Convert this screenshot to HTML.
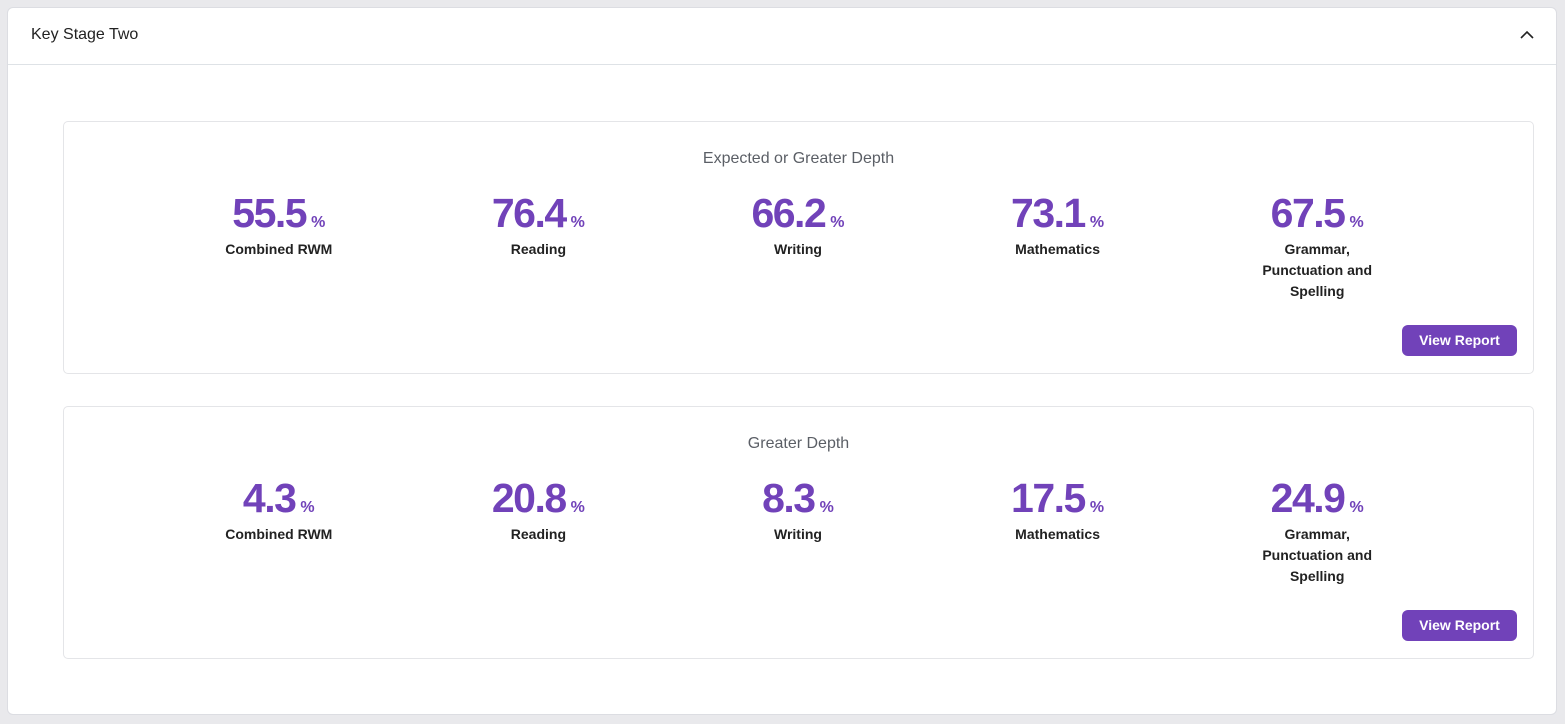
<!DOCTYPE html>
<html><head><style>
html,body{margin:0;padding:0;}
body{width:1565px;height:724px;background:#e9e9ec;font-family:"Liberation Sans",sans-serif;position:relative;overflow:hidden;}
.outer{position:absolute;left:7px;top:7px;width:1550px;height:708px;background:#fff;border:1px solid #dcdde2;border-radius:6px;box-sizing:border-box;}
.hdr{height:56px;border-bottom:1px solid #dee2e6;position:relative;}
.hdr span{position:absolute;left:23px;top:18px;font-size:16px;color:#222;}
.chev{position:absolute;right:22px;top:22px;}
.card{position:absolute;left:55px;width:1471px;height:253px;border:1px solid #e4e5e8;border-radius:5px;box-sizing:border-box;background:#fff;}
.title{position:absolute;top:28px;left:0;right:0;text-align:center;font-size:16px;color:#5b5f66;}
.cols{position:absolute;left:85px;top:73px;width:1298px;display:flex;}
.col{width:259.6px;text-align:center;}
.num{font-size:41px;font-weight:bold;color:#7142b9;letter-spacing:-1.5px;line-height:36px;height:36px;}
.num small{font-size:16px;font-weight:bold;letter-spacing:0;margin-left:5px;}
.lbl{font-size:14px;font-weight:bold;color:#222;line-height:21px;margin:8px auto 0;width:130px;}
.btn{position:absolute;left:1338px;top:203px;width:115px;height:31px;background:#7142b9;color:#fff;border-radius:6px;font-size:14px;font-weight:bold;text-align:center;line-height:31px;}
</style></head><body>
<div class="outer">
<div class="hdr"><span>Key Stage Two</span>
<svg class="chev" width="14" height="9" viewBox="0 0 14 9"><path d="M1 8 L7 2 L13 8" fill="none" stroke="#222" stroke-width="1.6"/></svg></div>
<div class="card" style="top:113px">
<div class="title">Expected or Greater Depth</div>
<div class="cols">
<div class="col"><div class="num">55.5<small>%</small></div><div class="lbl">Combined RWM</div></div>
<div class="col"><div class="num">76.4<small>%</small></div><div class="lbl">Reading</div></div>
<div class="col"><div class="num">66.2<small>%</small></div><div class="lbl">Writing</div></div>
<div class="col"><div class="num">73.1<small>%</small></div><div class="lbl">Mathematics</div></div>
<div class="col"><div class="num">67.5<small>%</small></div><div class="lbl">Grammar, Punctuation and Spelling</div></div>
</div>
<div class="btn">View Report</div>
</div>
<div class="card" style="top:398px">
<div class="title">Greater Depth</div>
<div class="cols">
<div class="col"><div class="num">4.3<small>%</small></div><div class="lbl">Combined RWM</div></div>
<div class="col"><div class="num">20.8<small>%</small></div><div class="lbl">Reading</div></div>
<div class="col"><div class="num">8.3<small>%</small></div><div class="lbl">Writing</div></div>
<div class="col"><div class="num">17.5<small>%</small></div><div class="lbl">Mathematics</div></div>
<div class="col"><div class="num">24.9<small>%</small></div><div class="lbl">Grammar, Punctuation and Spelling</div></div>
</div>
<div class="btn">View Report</div>
</div>
</div>
</body></html>
